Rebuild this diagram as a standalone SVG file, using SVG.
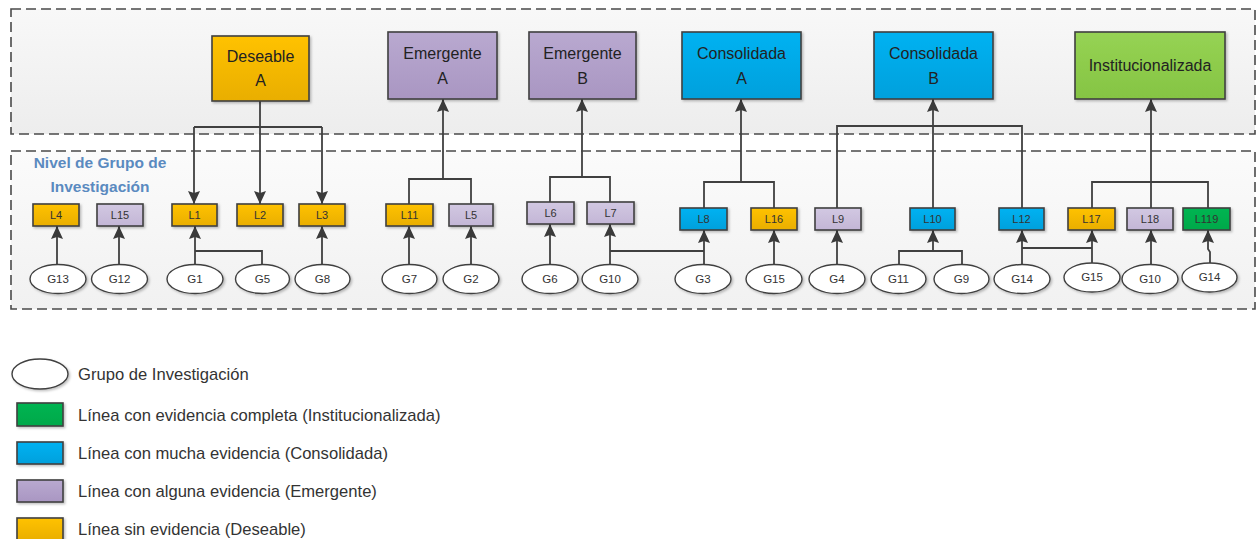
<svg xmlns="http://www.w3.org/2000/svg" width="1257" height="539" viewBox="0 0 1257 539">
<style>
.cont{stroke:#4a4a4a;stroke-width:1.6;stroke-dasharray:10 5}
.box{stroke:#404040;stroke-width:1.6;filter:url(#sh)}
.ell{fill:#ffffff;stroke:#404040;stroke-width:1.4;filter:url(#sh)}
.big{font-family:"Liberation Sans",Arial,sans-serif;font-size:16px;fill:#222;text-anchor:middle}
.sm{font-family:"Liberation Sans",Arial,sans-serif;font-size:11px;fill:#333;text-anchor:middle}
.gl{font-family:"Liberation Sans",Arial,sans-serif;font-size:11.5px;fill:#333;text-anchor:middle}
.lvl{font-family:"Liberation Sans",Arial,sans-serif;font-size:15.5px;font-weight:bold;fill:#5a8ac0;text-anchor:middle}
.leg{font-family:"Liberation Sans",Arial,sans-serif;font-size:16.6px;fill:#333}
.ln{fill:none;stroke:#404040;stroke-width:1.8}
.ar{fill:none;stroke:#404040;stroke-width:1.8;marker-end:url(#ah)}
.gold{fill:url(#gGold)}
.purp{fill:url(#gPurp)}
.lpurp{fill:url(#gLPurp)}
.blue{fill:url(#gBlue)}
.lgreen{fill:url(#gLGreen)}
.dgreen{fill:url(#gDGreen)}
</style>
<defs>
<filter id="sh" x="-20%" y="-20%" width="150%" height="160%">
<feDropShadow dx="1.5" dy="1.5" stdDeviation="1.2" flood-color="#000" flood-opacity="0.25"/>
</filter>
<marker id="ah" markerUnits="userSpaceOnUse" markerWidth="13" markerHeight="12" refX="13" refY="6" orient="auto">
<path d="M0,0 L13,6 L0,12 L2,6 z" fill="#3a3a3a"/>
</marker>
<linearGradient id="gTop" x1="0" y1="0" x2="0" y2="1"><stop offset="0" stop-color="#f8f8f8"/><stop offset="1" stop-color="#ededed"/></linearGradient>
<linearGradient id="gBot" x1="0" y1="0" x2="0" y2="1"><stop offset="0" stop-color="#fbfbfb"/><stop offset="1" stop-color="#f1f1f1"/></linearGradient>
<linearGradient id="gGold" x1="0" y1="0" x2="0" y2="1"><stop offset="0" stop-color="#ffc200"/><stop offset="1" stop-color="#e9ae00"/></linearGradient>
<linearGradient id="gPurp" x1="0" y1="0" x2="0" y2="1"><stop offset="0" stop-color="#b9a9d0"/><stop offset="1" stop-color="#a996c2"/></linearGradient>
<linearGradient id="gLPurp" x1="0" y1="0" x2="0" y2="1"><stop offset="0" stop-color="#d2c8e2"/><stop offset="1" stop-color="#c3b6d6"/></linearGradient>
<linearGradient id="gBlue" x1="0" y1="0" x2="0" y2="1"><stop offset="0" stop-color="#00b2f2"/><stop offset="1" stop-color="#00a0dc"/></linearGradient>
<linearGradient id="gLGreen" x1="0" y1="0" x2="0" y2="1"><stop offset="0" stop-color="#96d354"/><stop offset="1" stop-color="#85c443"/></linearGradient>
<linearGradient id="gDGreen" x1="0" y1="0" x2="0" y2="1"><stop offset="0" stop-color="#00b552"/><stop offset="1" stop-color="#00a84a"/></linearGradient>
</defs>

<g id="containers">
<rect id="nivel-superior" class="cont" x="11" y="9" width="1244" height="125" fill="url(#gTop)"/>
<rect id="nivel-grupo" class="cont" x="11" y="151" width="1244" height="158" fill="url(#gBot)"/>
<text class="lvl" x="100" y="168">Nivel de Grupo de</text>
<text class="lvl" x="100" y="192">Investigación</text>
</g>

<g id="connectors">
<path class="ln" d="M260,101 V127 M194,127 H322"/>
<path class="ar" d="M194,127 V204"/>
<path class="ar" d="M260,127 V204"/>
<path class="ar" d="M322,127 V204"/>
<path class="ln" d="M409,204 V179 H471 V204"/>
<path class="ar" d="M443,179 V99"/>
<path class="ln" d="M550,202 V177 H610 V202"/>
<path class="ar" d="M582,177 V99"/>
<path class="ln" d="M704,208 V182 H774 V208"/>
<path class="ar" d="M741,182 V99"/>
<path class="ln" d="M837,208 V126 H1022 V208"/>
<path class="ar" d="M933,208 V99"/>
<path class="ln" d="M1092,208 V182 H1208 V208"/>
<path class="ar" d="M1151,208 V99"/>

<path class="ar" d="M57,264 V226"/>
<path class="ar" d="M119,264 V226"/>
<path class="ar" d="M195,264 V226"/>
<path class="ln" d="M195,251 H262 V264"/>
<path class="ar" d="M322,264 V226"/>
<path class="ar" d="M409,264 V226"/>
<path class="ar" d="M471,264 V226"/>
<path class="ar" d="M550,264 V224"/>
<path class="ar" d="M610,264 V224"/>
<path class="ln" d="M610,251 H704"/>
<path class="ar" d="M704,264 V230"/>
<path class="ar" d="M774,264 V230"/>
<path class="ar" d="M837,264 V230"/>
<path class="ln" d="M899,264 V251 H962 V264"/>
<path class="ar" d="M933,251 V230"/>
<path class="ar" d="M1022,264 V230"/>
<path class="ln" d="M1022,248 H1092"/>
<path class="ar" d="M1092,263 V230"/>
<path class="ar" d="M1151,264 V230"/>
<path class="ar" d="M1210,263 V252 L1208,249 V230"/>
</g>

<g id="nivel-nodes">
<g id="deseable-a"><rect class="box gold" x="212" y="36" width="97" height="65"/><text class="big" x="260.5" y="62">Deseable</text><text class="big" x="260.5" y="86">A</text></g>
<g id="emergente-a"><rect class="box purp" x="388" y="32" width="109" height="67"/><text class="big" x="442.5" y="59">Emergente</text><text class="big" x="442.5" y="84">A</text></g>
<g id="emergente-b"><rect class="box purp" x="529" y="32" width="107" height="67"/><text class="big" x="582.5" y="59">Emergente</text><text class="big" x="582.5" y="84">B</text></g>
<g id="consolidada-a"><rect class="box blue" x="682" y="32" width="119" height="67"/><text class="big" x="741.5" y="59">Consolidada</text><text class="big" x="741.5" y="84">A</text></g>
<g id="consolidada-b"><rect class="box blue" x="874" y="32" width="119" height="67"/><text class="big" x="933.5" y="59">Consolidada</text><text class="big" x="933.5" y="84">B</text></g>
<g id="institucionalizada"><rect class="box lgreen" x="1075" y="32" width="150" height="67"/><text class="big" x="1150" y="71">Institucionalizada</text></g>
</g>

<g id="lineas">
<g id="L4"><rect class="box gold" x="33" y="204" width="46" height="22"/><text class="sm" x="56" y="219">L4</text></g>
<g id="L15"><rect class="box lpurp" x="97" y="204" width="46" height="22"/><text class="sm" x="120" y="219">L15</text></g>
<g id="L1"><rect class="box gold" x="172" y="204" width="45" height="22"/><text class="sm" x="194.5" y="219">L1</text></g>
<g id="L2"><rect class="box gold" x="237" y="204" width="46" height="22"/><text class="sm" x="260" y="219">L2</text></g>
<g id="L3"><rect class="box gold" x="299" y="204" width="46" height="22"/><text class="sm" x="322" y="219">L3</text></g>
<g id="L11"><rect class="box gold" x="386" y="204" width="47" height="22"/><text class="sm" x="409.5" y="219">L11</text></g>
<g id="L5"><rect class="box lpurp" x="449" y="204" width="44" height="22"/><text class="sm" x="471" y="219">L5</text></g>
<g id="L6"><rect class="box lpurp" x="527" y="202" width="47" height="22"/><text class="sm" x="550.5" y="217">L6</text></g>
<g id="L7"><rect class="box lpurp" x="587" y="202" width="47" height="22"/><text class="sm" x="610.5" y="217">L7</text></g>
<g id="L8"><rect class="box blue" x="680" y="208" width="47" height="22"/><text class="sm" x="703.5" y="223">L8</text></g>
<g id="L16"><rect class="box gold" x="751" y="208" width="46" height="22"/><text class="sm" x="774" y="223">L16</text></g>
<g id="L9"><rect class="box lpurp" x="815" y="208" width="46" height="22"/><text class="sm" x="838" y="223">L9</text></g>
<g id="L10"><rect class="box blue" x="910" y="208" width="45" height="22"/><text class="sm" x="932.5" y="223">L10</text></g>
<g id="L12"><rect class="box blue" x="999" y="208" width="45" height="22"/><text class="sm" x="1021.5" y="223">L12</text></g>
<g id="L17"><rect class="box gold" x="1068" y="208" width="47" height="22"/><text class="sm" x="1091.5" y="223">L17</text></g>
<g id="L18"><rect class="box lpurp" x="1127" y="208" width="46" height="22"/><text class="sm" x="1150" y="223">L18</text></g>
<g id="L119"><rect class="box dgreen" x="1183" y="208" width="47" height="22"/><text class="sm" x="1206.5" y="223">L119</text></g>
</g>

<g id="grupos">
<g id="G13"><ellipse class="ell" cx="58" cy="279" rx="28" ry="14.5"/><text class="gl" x="58" y="283">G13</text></g>
<g id="G12"><ellipse class="ell" cx="119.5" cy="279" rx="28" ry="14.5"/><text class="gl" x="119.5" y="283">G12</text></g>
<g id="G1"><ellipse class="ell" cx="195" cy="279" rx="28" ry="14.5"/><text class="gl" x="195" y="283">G1</text></g>
<g id="G5"><ellipse class="ell" cx="262.5" cy="279" rx="27" ry="14.5"/><text class="gl" x="262.5" y="283">G5</text></g>
<g id="G8"><ellipse class="ell" cx="322.5" cy="279" rx="27.5" ry="14.5"/><text class="gl" x="322.5" y="283">G8</text></g>
<g id="G7"><ellipse class="ell" cx="409.5" cy="279" rx="27.5" ry="14.5"/><text class="gl" x="409.5" y="283">G7</text></g>
<g id="G2"><ellipse class="ell" cx="471" cy="279" rx="28" ry="14.5"/><text class="gl" x="471" y="283">G2</text></g>
<g id="G6"><ellipse class="ell" cx="550" cy="279" rx="28" ry="14.5"/><text class="gl" x="550" y="283">G6</text></g>
<g id="G10"><ellipse class="ell" cx="610" cy="279" rx="28" ry="14.5"/><text class="gl" x="610" y="283">G10</text></g>
<g id="G3"><ellipse class="ell" cx="703" cy="279" rx="28" ry="14.5"/><text class="gl" x="703" y="283">G3</text></g>
<g id="G15"><ellipse class="ell" cx="774" cy="279" rx="28" ry="14.5"/><text class="gl" x="774" y="283">G15</text></g>
<g id="G4"><ellipse class="ell" cx="837" cy="279" rx="28" ry="14.5"/><text class="gl" x="837" y="283">G4</text></g>
<g id="G11"><ellipse class="ell" cx="898.5" cy="279" rx="27.5" ry="14.5"/><text class="gl" x="898.5" y="283">G11</text></g>
<g id="G9"><ellipse class="ell" cx="961.5" cy="279" rx="27.5" ry="14.5"/><text class="gl" x="961.5" y="283">G9</text></g>
<g id="G14"><ellipse class="ell" cx="1022" cy="279" rx="28" ry="14.5"/><text class="gl" x="1022" y="283">G14</text></g>
<g id="G15b"><ellipse class="ell" cx="1092" cy="277.5" rx="28" ry="14.5"/><text class="gl" x="1092" y="281">G15</text></g>
<g id="G10b"><ellipse class="ell" cx="1150" cy="279" rx="28" ry="14.5"/><text class="gl" x="1150" y="283">G10</text></g>
<g id="G14b"><ellipse class="ell" cx="1209.5" cy="277.5" rx="27.5" ry="14.5"/><text class="gl" x="1209.5" y="281">G14</text></g>
</g>

<g id="leyenda">
<g id="leg-grupo"><ellipse class="ell" cx="40" cy="374" rx="28" ry="15"/><text class="leg" x="78" y="380">Grupo de Investigación</text></g>
<g id="leg-inst"><rect class="box dgreen" x="17" y="403" width="46" height="23"/><text class="leg" x="78" y="421">Línea con evidencia completa (Institucionalizada)</text></g>
<g id="leg-cons"><rect class="box blue" x="17" y="442" width="46" height="22"/><text class="leg" x="78" y="459">Línea con mucha evidencia (Consolidada)</text></g>
<g id="leg-emer"><rect class="box purp" x="17" y="480" width="46" height="22"/><text class="leg" x="78" y="497">Línea con alguna evidencia (Emergente)</text></g>
<g id="leg-des"><rect class="box gold" x="17" y="518" width="46" height="23"/><text class="leg" x="78" y="535">Línea sin evidencia (Deseable)</text></g>
</g>
</svg>
